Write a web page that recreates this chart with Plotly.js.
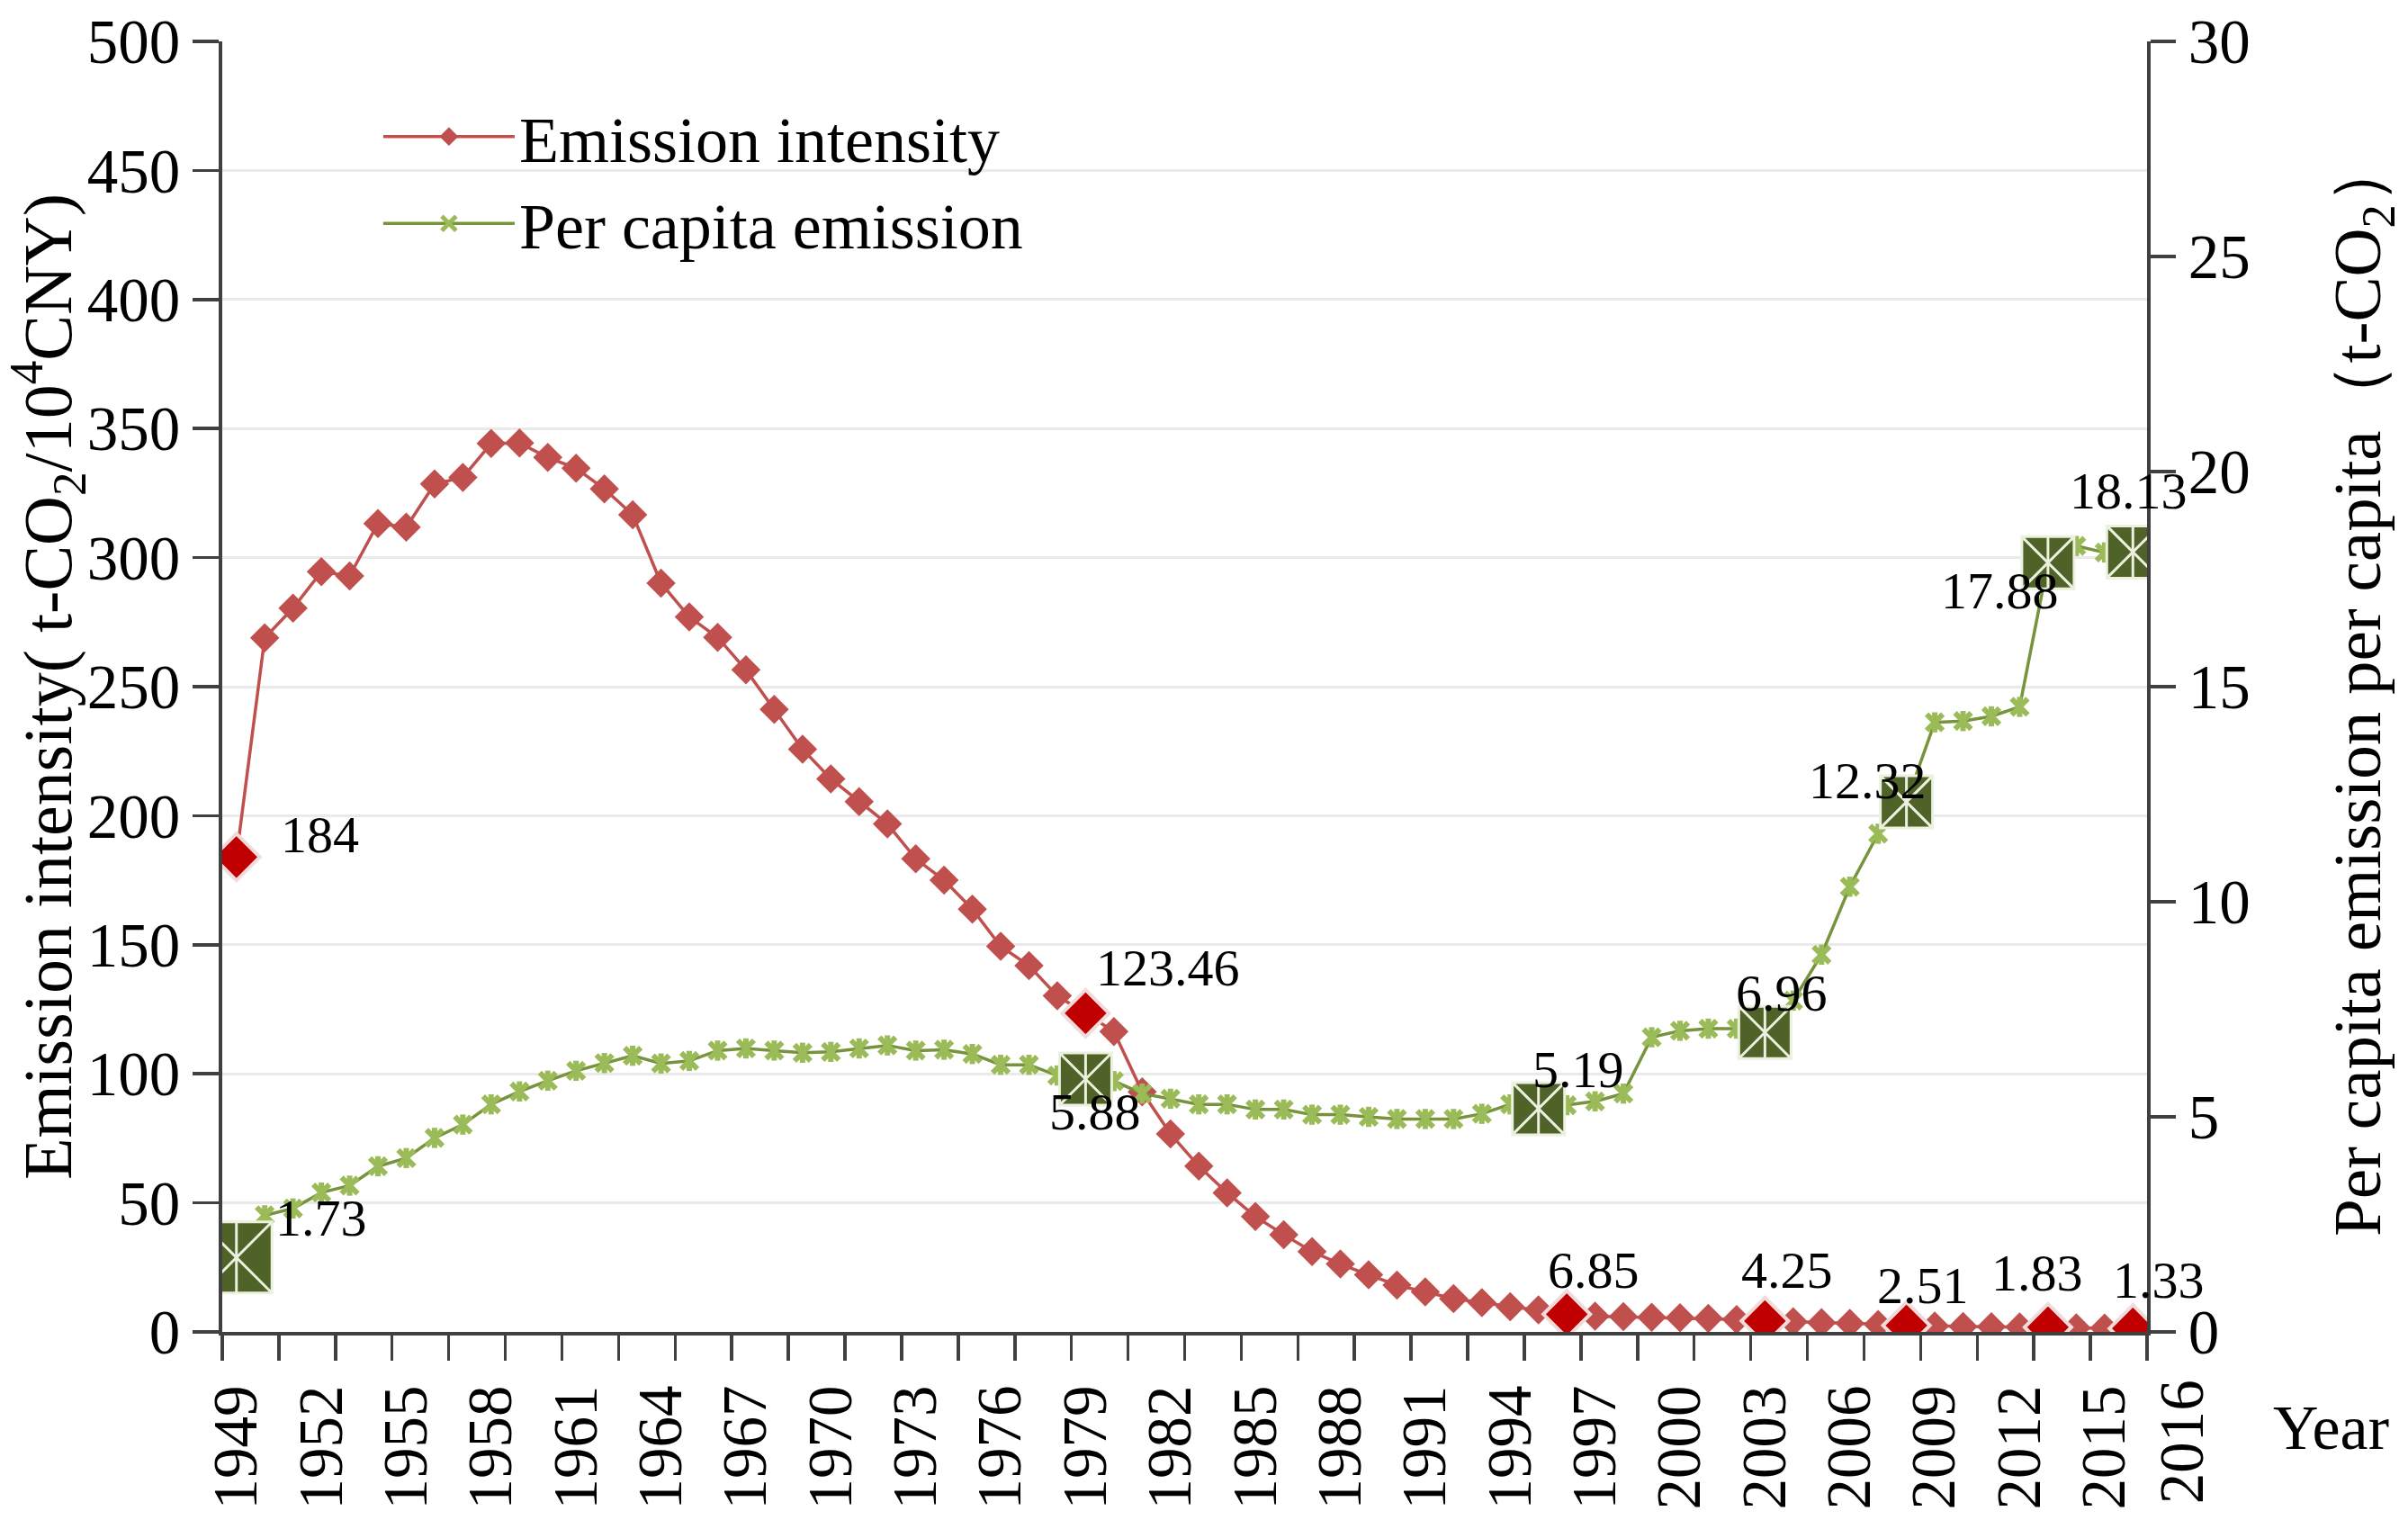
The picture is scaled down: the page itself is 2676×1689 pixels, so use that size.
<!DOCTYPE html>
<html><head><meta charset="utf-8">
<script src="https://cdn.plot.ly/plotly-3.0.1.min.js"></script>
<style>html,body{margin:0;padding:0;background:#fff}#chart{width:2676px;height:1689px}</style>
</head><body><div id="chart"></div>
<script>
const years = [1949,1950,1951,1952,1953,1954,1955,1956,1957,1958,1959,1960,1961,1962,1963,1964,1965,1966,1967,1968,1969,1970,1971,1972,1973,1974,1975,1976,1977,1978,1979,1980,1981,1982,1983,1984,1985,1986,1987,1988,1989,1990,1991,1992,1993,1994,1995,1996,1997,1998,1999,2000,2001,2002,2003,2004,2005,2006,2007,2008,2009,2010,2011,2012,2013,2014,2015,2016];
const emissionIntensity = [184,268.9,280.4,294.5,292.9,313.2,311.8,328.5,331.1,344.2,344.4,338.8,334.6,326.6,316.6,290.1,277.0,269.1,256.5,241.2,225.8,214.3,205.5,196.8,183.3,175.0,163.8,149.4,141.9,130.2,123.46,116.4,93.0,76.7,64.2,53.9,44.7,37.7,31.1,26.3,22.1,18.1,15.5,12.9,11.3,9.8,8.5,6.85,6.1,5.9,5.7,5.5,5.2,4.8,4.25,3.9,3.6,3.3,2.9,2.51,2.3,2.1,2.0,1.9,1.83,1.6,1.45,1.33];
const perCapitaEmission = [1.73,2.71,2.87,3.24,3.40,3.85,4.04,4.51,4.82,5.29,5.59,5.84,6.07,6.25,6.42,6.24,6.30,6.54,6.59,6.54,6.49,6.51,6.59,6.66,6.54,6.56,6.46,6.21,6.21,5.96,5.88,5.83,5.54,5.42,5.29,5.29,5.17,5.17,5.05,5.05,5.00,4.95,4.95,4.95,5.07,5.29,5.19,5.27,5.36,5.54,6.85,7.0,7.05,7.05,6.96,7.7,8.77,10.35,11.58,12.32,14.17,14.20,14.31,14.53,17.88,18.27,18.12,18.13];
const redHighlightYears = [1949,1979,1996,2003,2008,2013,2016];
const redHighlightLabels = ['184','123.46','6.85','4.25','2.51','1.83','1.33'];
const greenHighlightYears = [1949,1979,1995,2003,2008,2013,2016];
const greenHighlightLabels = ['1.73','5.88','5.19','6.96','12.32','17.88','18.13'];
const tickYears = [1949,1952,1955,1958,1961,1964,1967,1970,1973,1976,1979,1982,1985,1988,1991,1994,1997,2000,2003,2006,2009,2012,2015];
const lastTickYear = 2016;
const seriesNames = ['Emission intensity','Per capita emission'];

// styling (not data)
const redLabelOffsets = [[93,25],[92,50],[30,49],[25,56],[18,44],[-12,60],[29,54]];
const greenLabelOffsets = [[94,44],[11,-37],[44,43],[19,44],[-43,24],[-53,-31],[-5,68]];
const greenHighlightSizes = [79,58,58,58,58,58,58];
const FONT = 'Liberation Serif, Times New Roman, serif';
const RED = '#C0504D', GREEN_LINE = '#77933C', GREEN_MK = '#9BBB59';

const valAt = (arr, y) => arr[years.indexOf(y)];
const redHY = redHighlightYears.map(y => valAt(emissionIntensity, y));
const greenHY = greenHighlightYears.map(y => valAt(perCapitaEmission, y));

const traces = [
  {x: years, y: emissionIntensity, name: seriesNames[0], type: 'scatter', mode: 'lines+markers',
   line: {color: RED, width: 3.5},
   marker: {symbol: 'diamond', size: 25, color: RED, opacity: 1}},
  {x: redHighlightYears, y: redHY, type: 'scatter', mode: 'markers', showlegend: false, hoverinfo: 'skip',
   marker: {symbol: 'diamond', size: 40, color: '#C00000', opacity: 1, line: {color: '#F2DCDB', width: 4}}},
  {x: years, y: perCapitaEmission, name: seriesNames[1], yaxis: 'y2', type: 'scatter', mode: 'lines+markers',
   line: {color: GREEN_LINE, width: 3.5},
   marker: {symbol: 'x-thin-open', size: 18, color: GREEN_MK, opacity: 1, line: {color: GREEN_MK, width: 6}}},
  {x: years, y: perCapitaEmission, yaxis: 'y2', type: 'scatter', mode: 'markers', showlegend: false, hoverinfo: 'skip',
   marker: {symbol: 'line-ns-open', size: 16, color: GREEN_MK, opacity: 1, line: {color: GREEN_MK, width: 6}}},
  {x: greenHighlightYears, y: greenHY, yaxis: 'y2', type: 'scatter', mode: 'markers', showlegend: false, hoverinfo: 'skip',
   marker: {symbol: 'square-x', size: greenHighlightSizes, color: '#4F6228', opacity: 1, line: {color: '#EBF1DE', width: 3}}},
  {x: greenHighlightYears, y: greenHY, yaxis: 'y2', type: 'scatter', mode: 'markers', showlegend: false, hoverinfo: 'skip',
   marker: {symbol: 'line-ns-open', size: greenHighlightSizes.map(s => s / 1.4), color: '#EBF1DE', opacity: 1, line: {color: '#EBF1DE', width: 3}}}
];

const annotations = [];
redHighlightYears.forEach((yr, i) => annotations.push({
  x: yr, y: redHY[i], xref: 'x', yref: 'y', text: redHighlightLabels[i], showarrow: false,
  xshift: redLabelOffsets[i][0], yshift: redLabelOffsets[i][1], font: {family: FONT, size: 58, color: '#000'}}));
greenHighlightYears.forEach((yr, i) => annotations.push({
  x: yr, y: greenHY[i], xref: 'x', yref: 'y2', text: greenHighlightLabels[i], showarrow: false,
  xshift: greenLabelOffsets[i][0], yshift: greenLabelOffsets[i][1], font: {family: FONT, size: 58, color: '#000'}}));
annotations.push({x: lastTickYear, xref: 'x', y: 0, yref: 'paper', text: String(lastTickYear), textangle: -90,
  showarrow: false, xanchor: 'center', yanchor: 'top', xshift: 55, yshift: -51, font: {family: FONT, size: 69, color: '#000'}});
annotations.push({x: 1.0954, xref: 'paper', y: -0.0746, yref: 'paper', text: 'Year', showarrow: false,
  xanchor: 'center', yanchor: 'middle', font: {family: FONT, size: 70, color: '#000'}});

const layout = {
  width: 2676, height: 1689,
  margin: {l: 247, r: 290, t: 46, b: 209},
  paper_bgcolor: '#fff', plot_bgcolor: '#fff',
  font: {family: FONT, color: '#000', size: 69},
  showlegend: true,
  legend: {x: 0.0813, y: 0.9635, xanchor: 'left', yanchor: 'top', bgcolor: 'rgba(0,0,0,0)', itemwidth: 146,
    font: {family: FONT, size: 72, color: '#000'}},
  xaxis: {range: [1948.5, 2016.5], tickmode: 'array', tickvals: tickYears, ticktext: tickYears.map(String),
    tickangle: -90, ticks: 'outside', ticklen: 28, tickcolor: 'rgba(0,0,0,0)',
    showgrid: false, zeroline: false, showline: true, linecolor: '#404040', linewidth: 4,
    tickfont: {family: FONT, size: 69, color: '#000'},
    minor: {tickmode: 'linear', tick0: 1948.5, dtick: 2, ticks: 'outside', ticklen: 28, tickwidth: 3.5, tickcolor: '#404040', showgrid: false}},
  yaxis: {range: [0, 500], dtick: 50, tick0: 0, ticks: 'outside', ticklen: 29, tickwidth: 3.5, tickcolor: '#404040',
    showline: true, linecolor: '#404040', linewidth: 4, showgrid: true, gridcolor: '#EAEAEA', gridwidth: 3,
    zeroline: false, tickfont: {family: FONT, size: 69, color: '#000'},
    title: {text: 'Emission intensity( t-CO<sub>2</sub>/10<sup>4</sup>CNY)', standoff: 0, font: {family: FONT, size: 76, color: '#000'}}},
  yaxis2: {range: [0, 30], dtick: 5, tick0: 0, overlaying: 'y', side: 'right', ticks: 'outside', ticklen: 28, tickwidth: 3.5,
    tickcolor: '#404040', showline: true, linecolor: '#404040', linewidth: 4, showgrid: false, zeroline: false,
    tickfont: {family: FONT, size: 69, color: '#000'},
    title: {text: 'Per capita emission per capita（t-CO<sub>2</sub>）', standoff: 94, font: {family: FONT, size: 75, color: '#000'}}},
  annotations: annotations
};

Plotly.newPlot('chart', traces, layout, {staticPlot: true, displayModeBar: false});
</script></body></html>
